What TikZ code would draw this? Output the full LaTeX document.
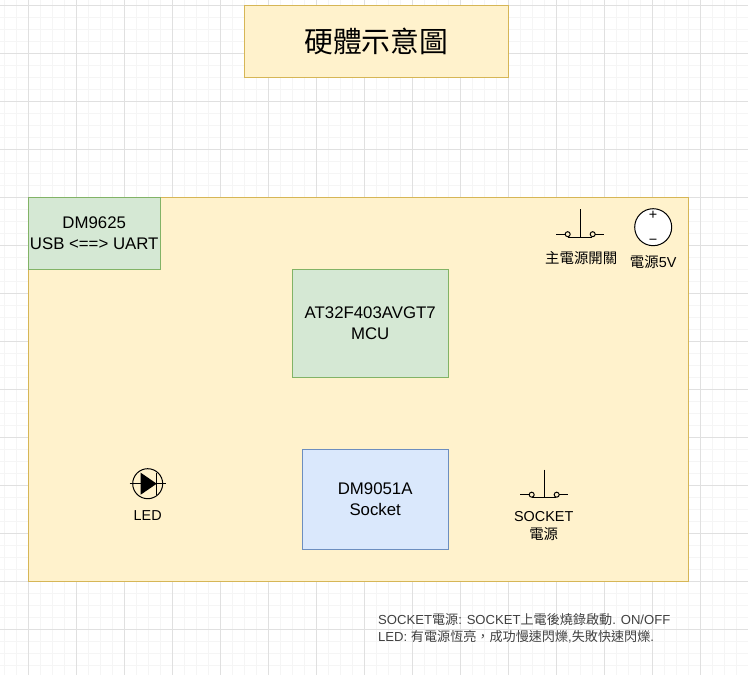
\documentclass[tikz,border=0pt]{standalone}
\usepackage{fontspec}
\setmainfont{Liberation Sans}
\newfontfamily\cjk{Noto Sans CJK TC}
\usepackage{tikz}
\usetikzlibrary{positioning}
\definecolor{boardfill}{HTML}{FFF2CC}
\definecolor{boardline}{HTML}{D6B656}
\definecolor{greenfill}{HTML}{D5E8D4}
\definecolor{greenline}{HTML}{82B366}
\definecolor{bluefill}{HTML}{DAE8FC}
\definecolor{blueline}{HTML}{6C8EBF}
\newcommand{\bodyfont}{\fontsize{16.8}{21}\selectfont}
\newcommand{\labelfont}{\fontsize{14.4}{18}\selectfont}
\begin{document}
\begin{tikzpicture}[
    x=1pt,
    y=-1pt,
    line width=1pt,
    block/.style={
        rectangle,
        draw,
        line width=1.2pt,
        anchor=center,
        align=center,
        inner sep=0pt,
        execute at begin node={\rule{0pt}{17pt}},
        font=\bodyfont
    },
    boardblock/.style={
        block,
        draw=boardline,
        fill=boardfill
    },
    chipblock/.style={
        block,
        draw=greenline,
        fill=greenfill
    },
    socketblock/.style={
        block,
        draw=blueline,
        fill=bluefill
    },
    partlabel/.style={
        align=center,
        inner sep=0pt,
        font=\labelfont
    },
    pushswitch/.pic={
        \draw (0,-28) -- (0,0);
        \draw (-12,0) -- (12,0);
        \draw (-24,-3) -- (-15,-3);
        \draw (15,-3) -- (24,-3);
        \draw (-12.5,-3) circle (2.5);
        \draw (12.5,-3) circle (2.5);
    }
]
\useasboundingbox (0.3,0.3) rectangle (748.3,675.3);

% Grid
\foreach \x in {4.5,16.5,...,749}
    \draw[black!4] (\x,0) -- (\x,676);
\foreach \y in {5.5,17.5,...,676}
    \draw[black!4] (0,\y) -- (749,\y);
\foreach \x in {28.5,76.5,...,749}
    \draw[black!12] (\x,0) -- (\x,676);
\foreach \y in {5.5,53.5,...,676}
    \draw[black!12] (0,\y) -- (749,\y);

% Main blocks
\node[boardblock, minimum width=264, minimum height=72, font=\fontsize{28.8}{34}\selectfont\cjk] (title) at (376.5,41.5) {硬體示意圖};

\node[boardblock, minimum width=660, minimum height=384] (board) at (358.5,389.5) {};

\node[chipblock, minimum width=132, minimum height=72] (uart) at (94.5,233.5) {DM9625\\USB <==> UART};

\node[chipblock, minimum width=156, minimum height=108] (mcu) at (370.5,323.5) {AT32F403AVGT7\\MCU};

\node[socketblock, minimum width=146, minimum height=100.5] (socket) at (375.5,499.75) {DM9051A\\Socket};

% Main power switch
\path (580.5,237.5) pic {pushswitch};
\node[partlabel] (mainlabel) at (581.5,258) {\cjk 主電源開關};

% Power input
\node[circle, draw, fill=white, minimum size=37, inner sep=0pt] (power) at (653.5,227.5) {};
\node[inner sep=0pt, font=\labelfont] (plus) at (653.5,215.5) {+};
\node[inner sep=0pt, font=\labelfont] (minus) at (653.5,242) {−};
\node[partlabel] (powerlabel) at (653.5,262) {{\cjk 電源}5V};

% LED
\node[circle, draw, minimum size=30, inner sep=0pt] (led) at (148,484) {};
\draw (130,484) -- (166,484);
\fill (141,473) -- (157,484) -- (141,495) -- cycle;
\draw (157,473) -- (157,495);
\node[partlabel] (ledlabel) at (148,515.5) {LED};

% Socket power switch
\path (544.5,498) pic {pushswitch};
\node[partlabel] (socketlabel) at (544,526.5) {SOCKET\\{\cjk 電源}};

% Note
\node[anchor=west, align=left, inner sep=0pt, text=black!75, font=\fontsize{13.1}{17}\selectfont] (note) at (378,628.5) {SOCKET{\cjk 電源}: SOCKET{\cjk 上電後燒錄啟動}. ON/OFF\\LED: {\cjk 有電源恆亮，成功慢速閃爍},{\cjk 失敗快速閃爍}.};

\end{tikzpicture}
\end{document}
